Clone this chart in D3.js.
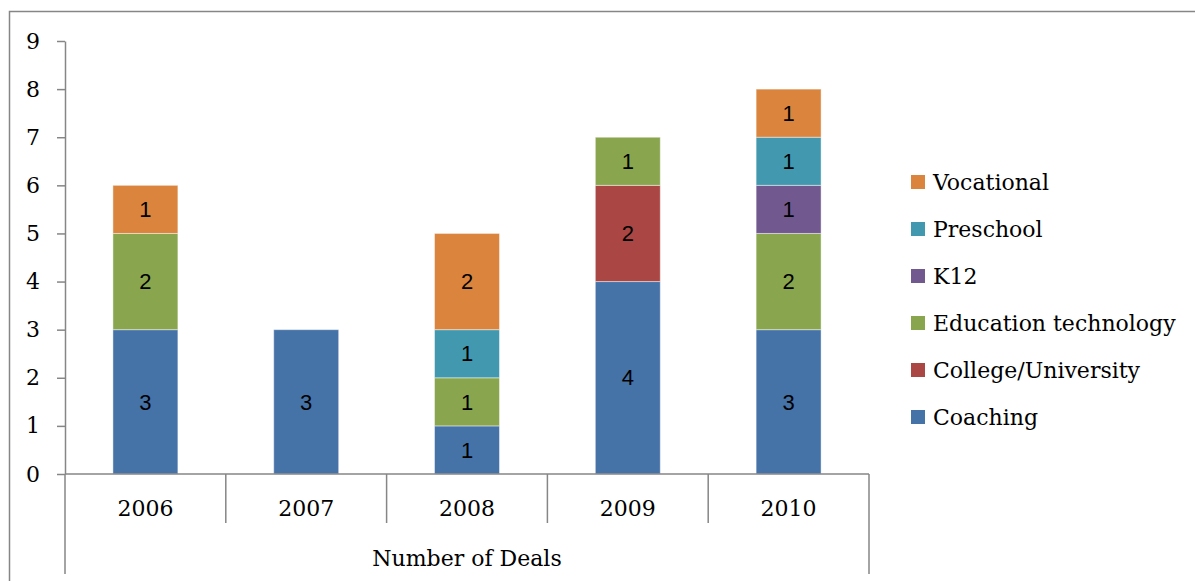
<!DOCTYPE html>
<html><head><meta charset="utf-8">
<script src="https://cdn.jsdelivr.net/npm/d3@7"></script>
<style>body{margin:0;background:#fff}svg{display:block}</style>
</head><body><svg id="c" width="1195" height="581"></svg>
<script>
const years = ["2006","2007","2008","2009","2010"];
const seriesNames = ["Coaching","College/University","Education technology","K12","Preschool","Vocational"];
const coaching = [3,3,1,4,3];
const college = [0,0,0,2,0];
const edutech = [2,0,1,1,2];
const k12 = [0,0,0,0,1];
const preschool = [0,0,1,0,1];
const vocational = [1,0,2,0,1];
const colors = ["#4572A7","#AA4643","#89A54E","#71588F","#4198AF","#DB843D"];
const yTicks = [0,1,2,3,4,5,6,7,8,9];
const groupLabel = "Number of Deals";

const values = [coaching,college,edutech,k12,preschool,vocational];
const table = years.map((y,i)=>{const o={year:y};seriesNames.forEach((s,j)=>o[s]=values[j][i]);return o;});
const stack = d3.stack().keys(seriesNames)(table);

const svg = d3.select("#c");
const serif = "'DejaVu Serif', serif";
const axisColor = "#868686";

// outer frame (cropped)
svg.append("rect").attr("x",9.5).attr("y",11.5).attr("width",1300).attr("height",700)
  .attr("fill","none").attr("stroke",axisColor).attr("stroke-width",1.5);

const x0 = 65, x1 = 869;
const y = d3.scaleLinear().domain([0,9]).range([474,41]);
const x = d3.scaleBand().domain(years).range([x0,x1]).paddingInner(0.596).paddingOuter(0.298);
const xg = d3.scaleBand().domain(years).range([x0,x1]).padding(0);

// bars
const g = svg.append("g");
stack.forEach((layer,j)=>{
  g.selectAll(null).data(layer.filter(d=>d[1]-d[0]>0)).enter().append("rect")
    .attr("x",d=>x(d.data.year)).attr("width",x.bandwidth())
    .attr("y",d=>y(d[1])).attr("height",d=>y(d[0])-y(d[1]))
    .attr("fill",colors[j]).attr("stroke","rgba(255,255,255,0.45)").attr("stroke-width",1);
  g.selectAll(null).data(layer.filter(d=>d[1]-d[0]>0)).enter().append("text")
    .attr("x",d=>x(d.data.year)+x.bandwidth()/2).attr("y",d=>(y(d[0])+y(d[1]))/2)
    .attr("dy","0.35em").attr("text-anchor","middle")
    .attr("font-family","'Liberation Sans', Arial, sans-serif").attr("font-size",22).attr("fill","#000")
    .text(d=>d[1]-d[0]);
});

// y axis
const yAxis = d3.axisLeft(y).tickValues(yTicks).tickSize(8).tickPadding(17).tickSizeOuter(0);
const ya = svg.append("g").attr("transform",`translate(${x0},0)`).call(yAxis);
ya.selectAll("path,line").attr("stroke",axisColor).attr("stroke-width",1.5);
ya.selectAll("text").attr("font-family",serif).attr("font-size",22).attr("fill","#000");

// x axis line
svg.append("line").attr("x1",x0).attr("x2",x1).attr("y1",y(0)).attr("y2",y(0))
  .attr("stroke",axisColor).attr("stroke-width",1.5);
// dividers
const dividers = years.slice(1).map(d=>xg(d));
svg.selectAll(null).data(dividers).enter().append("line")
  .attr("x1",d=>d).attr("x2",d=>d).attr("y1",y(0)).attr("y2",523)
  .attr("stroke",axisColor).attr("stroke-width",1.5);
svg.selectAll(null).data([x0,x1]).enter().append("line")
  .attr("x1",d=>d).attr("x2",d=>d).attr("y1",y(0)).attr("y2",574)
  .attr("stroke",axisColor).attr("stroke-width",1.5);
svg.selectAll(null).data(years).enter().append("text")
  .attr("x",d=>xg(d)+xg.bandwidth()/2).attr("y",508).attr("dy","0.35em")
  .attr("text-anchor","middle").attr("font-family",serif).attr("font-size",22).text(d=>d);
svg.append("text").attr("x",(x0+x1)/2).attr("y",558).attr("dy","0.35em")
  .attr("text-anchor","middle").attr("font-family",serif).attr("font-size",22).text(groupLabel);

// legend
const legendOrder = seriesNames.map((s,i)=>({s,c:colors[i]})).reverse();
const lg = svg.append("g");
legendOrder.forEach((d,i)=>{
  const cy = 182 + i*47;
  lg.append("rect").attr("x",911).attr("y",cy-7).attr("width",14).attr("height",14).attr("fill",d.c);
  lg.append("text").attr("x",933).attr("y",cy).attr("dy","0.35em")
    .attr("font-family",serif).attr("font-size",22).text(d.s);
});
</script></body></html>
